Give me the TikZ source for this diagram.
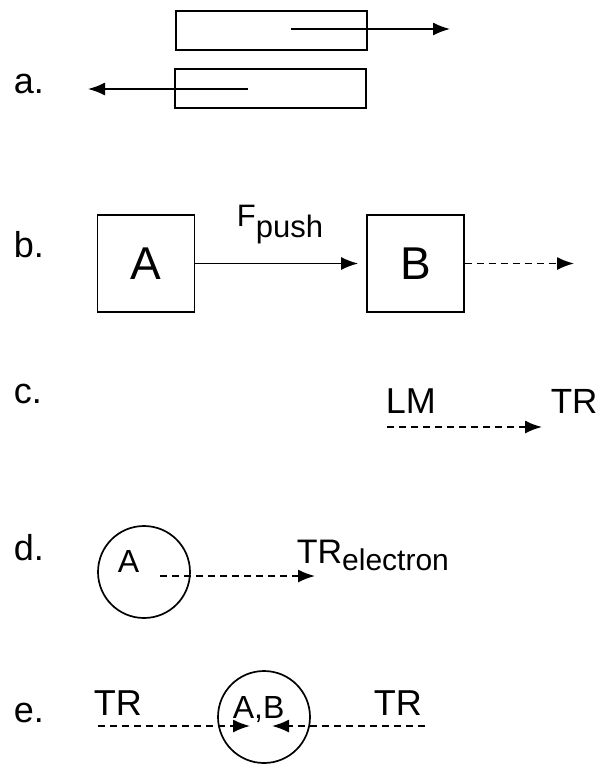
\documentclass[tikz,border=0pt]{standalone}
\usepackage{fontspec}
\setmainfont{Liberation Sans}
\usetikzlibrary{arrows.meta,positioning}

\begin{document}
\begin{tikzpicture}[x=1pt,y=-1pt,line width=1.7pt,
  tag/.style={anchor=base west,inner sep=0pt,font=\fontsize{36}{40}\selectfont},
  small tag/.style={tag,font=\fontsize{32}{36}\selectfont},
  bar/.style={draw,anchor=north west,minimum width=191pt,minimum height=39pt,inner sep=0pt},
  box/.style={draw,minimum size=97pt,inner sep=0pt,font=\fontsize{46}{50}\selectfont},
  ring/.style={draw,circle,minimum size=92pt,inner sep=0pt},
  force/.style={-{Latex[length=17pt,width=13pt]}},
  trail/.style={dash pattern=on 7pt off 5pt}]
  \useasboundingbox (0,0) rectangle (599,766);
  % a.
  \node[tag] (la) at (13,93) {a.};
  \node[bar] (top) at (175,10) {};
  \node[bar] (bot) at (174,68) {};
  \coordinate (topin) at (291,29);
  \coordinate (topout) at (450,29);
  \coordinate (botin) at (248,89);
  \coordinate (botout) at (88,89);
  \draw[force] (topin) -- (topout);
  \draw[force] (botin) -- (botout);
  % b.
  \node[tag] (lb) at (13,257) {b.};
  \node[box] (A) at (146,263.5) {A};
  \node[box] (B) at (415.5,263.5) {B};
  \coordinate (Bout) at (574,263.5);
  \draw[force,shorten >=8pt] (A) -- (B);
  \node[tag] (Fpush) at (236,226) {\fontsize{31}{34}\selectfont F\raisebox{-11pt}{push}};
  \draw[force,trail] (B) -- (Bout);
  % c.
  \node[tag] (lc) at (13,403) {c.};
  \node[tag] (LM) at (385,413) {LM};
  \node[tag] (TRc) at (550,413) {\fontsize{35}{38}\selectfont TR};
  \coordinate (cfrom) at (387,427);
  \coordinate (cto) at (542,427);
  \draw[force,trail] (cfrom) -- (cto);
  % d.
  \node[tag] (ld) at (13,560) {d.};
  \node[ring] (Ad) at (144,572) {};
  \node[small tag] (Adl) at (117,572) {A};
  \node[tag] (TRd) at (296,563) {\fontsize{34}{38}\selectfont TR\raisebox{-7pt}{\fontsize{30}{32}\selectfont electron}};
  \coordinate (dfrom) at (160,576);
  \coordinate (dto) at (315,576);
  \draw[force,trail] (dfrom) -- (dto);
  % e.
  \node[tag] (le) at (13,722) {e.};
  \node[tag] (TRl) at (93,715) {TR};
  \node[tag] (TRr) at (373,715) {TR};
  \node[ring] (AB) at (264,717) {};
  \node[small tag] (ABl) at (232,718) {A,B};
  \coordinate (efroml) at (98,726);
  \coordinate (etol) at (250,726);
  \coordinate (efromr) at (425,726);
  \coordinate (etor) at (272,726);
  \draw[force,trail] (efroml) -- (etol);
  \draw[force,trail] (efromr) -- (etor);
\end{tikzpicture}
\end{document}
